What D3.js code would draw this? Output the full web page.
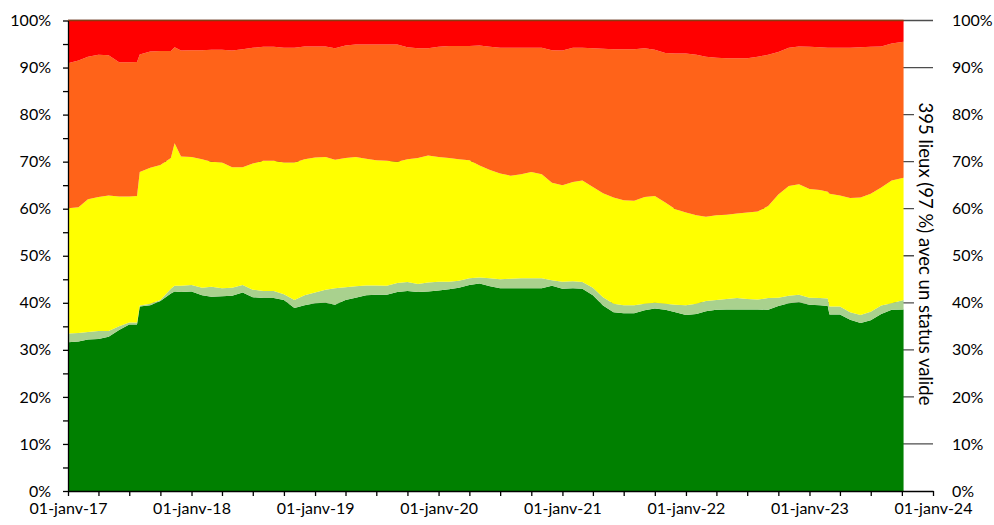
<!DOCTYPE html>
<html><head><meta charset="utf-8">
<script src="https://cdn.jsdelivr.net/npm/d3@7"></script>
<style>
body{margin:0;background:#fff}
svg{display:block}
text{font-family:Lato,"Open Sans",sans-serif;fill:#000}
</style>
</head><body>
<svg id="chart" width="994" height="525"></svg>
<script>
// ---- data (share of places per status, %) ----
const dates = [
 "2017-01-01","2017-02-01","2017-03-01","2017-04-01","2017-05-01","2017-06-01","2017-07-01","2017-07-24","2017-08-01","2017-09-01","2017-10-01","2017-11-01","2017-11-12","2017-12-01",
 "2018-01-01","2018-02-01","2018-03-01","2018-04-01","2018-05-01","2018-06-01","2018-07-01","2018-08-01","2018-09-01","2018-10-01","2018-11-01","2018-12-01",
 "2019-01-01","2019-02-01","2019-03-01","2019-04-01","2019-05-01","2019-06-01","2019-07-01","2019-08-01","2019-09-01","2019-10-01","2019-11-01","2019-12-01",
 "2020-01-01","2020-02-01","2020-03-01","2020-04-01","2020-05-01","2020-06-01","2020-07-01","2020-08-01","2020-09-01","2020-10-01","2020-11-01","2020-12-01",
 "2021-01-01","2021-02-01","2021-03-01","2021-04-01","2021-05-01","2021-06-01","2021-07-01","2021-08-01","2021-09-01","2021-10-01","2021-11-01","2021-12-01",
 "2022-01-01","2022-02-01","2022-03-01","2022-04-01","2022-05-01","2022-06-01","2022-07-01","2022-08-01","2022-09-01","2022-10-01","2022-11-01","2022-12-01",
 "2023-01-01","2023-02-01","2023-02-24","2023-03-01","2023-04-01","2023-05-01","2023-06-01","2023-07-01","2023-08-01","2023-09-01","2023-10-06"
];
const vert = [
 31.6,31.8,32.2,32.3,32.8,34.2,35.4,35.4,39.2,39.5,40.4,42.0,42.4,42.3,
 42.4,41.6,41.3,41.4,41.5,42.2,41.2,41.0,41.0,40.6,38.9,39.5,
 39.9,40.0,39.6,40.6,41.1,41.6,41.7,41.7,42.3,42.5,42.3,42.4,
 42.6,42.9,43.2,43.8,44.1,43.5,43.1,43.1,43.1,43.1,43.1,43.6,
 43.0,43.1,43.0,41.6,39.4,38.0,37.8,37.8,38.4,38.8,38.5,38.0,
 37.4,37.6,38.2,38.5,38.6,38.6,38.6,38.6,38.5,39.3,39.9,40.1,
 39.6,39.5,39.3,37.5,37.5,36.4,35.7,36.3,37.6,38.5,38.6
];
const vertClair = [
 1.9,1.8,1.6,1.7,1.2,0.8,0.4,0.4,0.2,0.3,0.2,1.0,1.2,1.3,
 1.4,1.6,2.1,1.7,1.7,1.6,1.6,1.5,1.5,1.2,1.7,2.1,
 2.3,2.8,3.5,2.7,2.4,2.1,2.0,1.9,1.9,1.9,1.7,1.9,
 1.9,1.6,1.5,1.4,1.3,1.7,1.9,2.0,2.1,2.1,2.1,1.2,
 1.5,1.5,1.4,1.6,1.8,1.8,1.7,1.7,1.4,1.2,1.3,1.6,
 2.1,2.2,2.2,2.1,2.2,2.4,2.2,2.1,2.5,1.8,1.6,1.6,
 1.5,1.5,1.6,1.7,1.7,1.6,1.7,1.8,1.8,1.4,2.0
];
const jaune = [
 26.6,26.7,28.2,28.5,28.8,27.6,26.8,26.9,28.4,28.9,28.7,27.8,30.3,27.5,
 27.2,27.3,26.6,26.7,25.6,25.0,26.8,27.7,27.7,28.0,29.2,28.9,
 28.7,28.2,27.3,27.5,27.5,26.9,26.6,26.6,25.8,26.1,26.8,27.0,
 26.5,26.3,25.8,25.1,23.8,23.0,22.5,21.9,22.1,22.6,22.1,20.7,
 20.5,21.1,21.6,21.4,22.1,22.6,22.3,22.2,22.7,22.7,21.5,20.3,
 19.7,18.8,17.9,18.0,17.9,18.0,18.4,18.7,19.6,21.9,23.3,23.5,
 23.1,23.0,22.7,24.0,23.6,24.3,25.0,25.1,25.1,26.1,26.0
];
const orange = [
 30.8,31.2,30.3,30.2,29.8,28.5,28.5,28.5,25.0,24.7,24.2,22.7,20.4,22.5,
 22.7,23.2,23.8,24.0,24.8,25.1,24.6,24.2,24.2,24.4,24.4,24.0,
 23.6,23.5,23.7,23.9,23.9,24.3,24.6,24.7,24.9,23.8,23.3,22.8,
 23.4,23.8,24.1,24.3,25.5,26.2,26.7,27.2,26.9,26.4,26.9,28.2,
 28.6,28.5,28.2,29.5,30.7,31.5,32.1,32.2,31.6,31.1,31.8,33.1,
 33.8,34.1,34.0,33.5,33.3,33.0,32.8,32.9,32.1,30.3,29.4,29.3,
 30.2,30.3,30.6,31.0,31.4,31.9,31.9,31.2,30.0,29.1,28.9
];
const rouge = [
 9.1,8.5,7.7,7.3,7.4,8.9,8.9,8.8,7.2,6.6,6.5,6.5,5.7,6.4,
 6.3,6.3,6.2,6.2,6.4,6.1,5.8,5.6,5.6,5.8,5.8,5.5,
 5.5,5.5,5.9,5.3,5.1,5.1,5.1,5.1,5.1,5.7,5.9,5.9,
 5.6,5.4,5.4,5.4,5.3,5.6,5.8,5.8,5.8,5.8,5.8,6.3,
 6.4,5.8,5.8,5.9,6.0,6.1,6.1,6.1,5.9,6.2,6.9,7.0,
 7.0,7.3,7.7,7.9,8.0,8.0,8.0,7.7,7.3,6.7,5.8,5.5,
 5.6,5.7,5.8,5.8,5.8,5.8,5.7,5.6,5.5,4.9,4.5
];
const xTickLabels = ["01-janv-17","01-janv-18","01-janv-19","01-janv-20","01-janv-21","01-janv-22","01-janv-23","01-janv-24"];
const yTickValues = [0,5,10,15,20,25,30,35,40,45,50,55,60,65,70,75,80,85,90,95,100];
const rightTitle = "395 lieux (97 %) avec un status valide";

// ---- build ----
const keys = ["vert","vertClair","jaune","orange","rouge"];
const colors = {vert:"#008000", vertClair:"#A9D18E", jaune:"#FFFF00", orange:"#FF6319", rouge:"#FF0000"};
const parse = d3.timeParse("%Y-%m-%d");
const rows = dates.map((d,i)=>({date:parse(d), vert:vert[i], vertClair:vertClair[i], jaune:jaune[i], orange:orange[i], rouge:rouge[i]}));
const series = d3.stack().keys(keys).offset(d3.stackOffsetExpand)(rows);

const svg = d3.select("#chart");
const x = d3.scaleTime().domain([parse("2017-01-01"), parse("2024-01-01")]).range([68, 933]);
const y = d3.scaleLinear().domain([0,1]).range([491, 20.5]);

// gridlines (behind areas)
svg.append("g").selectAll("line")
  .data(yTickValues.filter(v => v % 10 === 0 && v > 0))
  .join("line")
  .attr("x1", x.range()[0]).attr("x2", x.range()[1])
  .attr("y1", d => y(d/100)).attr("y2", d => y(d/100))
  .attr("stroke", "#4d4d4d").attr("stroke-width", 1.3);

// areas
const area = d3.area().x(d => x(d.data.date)).y0(d => y(d[0])).y1(d => y(d[1]));
svg.append("g").selectAll("path").data(series).join("path")
  .attr("fill", d => colors[d.key]).attr("d", area);

// top edge line over the data
const lastDate = rows[rows.length-1].date;
svg.append("line")
  .attr("x1", x(rows[0].date)).attr("x2", x(lastDate))
  .attr("y1", y(1)).attr("y2", y(1))
  .attr("stroke", "#8a3b12").attr("stroke-width", 1.5);

// left axis
const yAxisL = d3.axisLeft(y)
  .tickValues(yTickValues.map(v => v/100))
  .tickFormat(d => (Math.round(d*100) % 10 === 0) ? Math.round(d*100) + "%" : "")
  .tickSize(5).tickSizeOuter(0).tickPadding(12);
const gL = svg.append("g").attr("transform", "translate(68,0)").call(yAxisL);
gL.selectAll("path,line").attr("stroke", "#000").attr("stroke-width", 1.3);
gL.selectAll("text").style("font-size", "16px").style("font-family", "Lato");

// right axis labels
const yAxisR = d3.axisRight(y)
  .tickValues(yTickValues.filter(v => v % 10 === 0).map(v => v/100))
  .tickFormat(d => Math.round(d*100) + "%")
  .tickSize(0).tickPadding(19);
const gR = svg.append("g").attr("transform", "translate(933,0)").call(yAxisR);
gR.select(".domain").remove();
gR.selectAll("text").style("font-size", "16px").style("font-family", "Lato");

// bottom axis
const quarterTicks = d3.timeMonth.every(3).range(parse("2017-01-01"), d3.timeDay.offset(parse("2024-01-01"),1));
const xAxis = d3.axisBottom(x)
  .tickValues(quarterTicks)
  .tickFormat(d => d.getMonth() === 0 ? xTickLabels[d.getFullYear() - 2017] : "")
  .tickSize(5).tickSizeOuter(0).tickPadding(7);
const gB = svg.append("g").attr("transform", "translate(0,491)").call(xAxis);
gB.selectAll("path,line").attr("stroke", "#000").attr("stroke-width", 1.3);
gB.selectAll("text").style("font-size", "16px").style("font-family", "Lato");

// right rotated title with white background
const gt = svg.append("g").attr("transform", "translate(919,254) rotate(90)");
const bgRect = gt.append("rect").attr("fill", "#fff");
const tt = gt.append("text").attr("text-anchor", "middle")
  .style("font-size", "18.5px").style("font-family", "Lato").text(rightTitle);
const bb = tt.node().getBBox();
bgRect.attr("x", bb.x - 2).attr("y", bb.y - 1).attr("width", bb.width + 4).attr("height", bb.height + 2);
</script>
</body></html>
